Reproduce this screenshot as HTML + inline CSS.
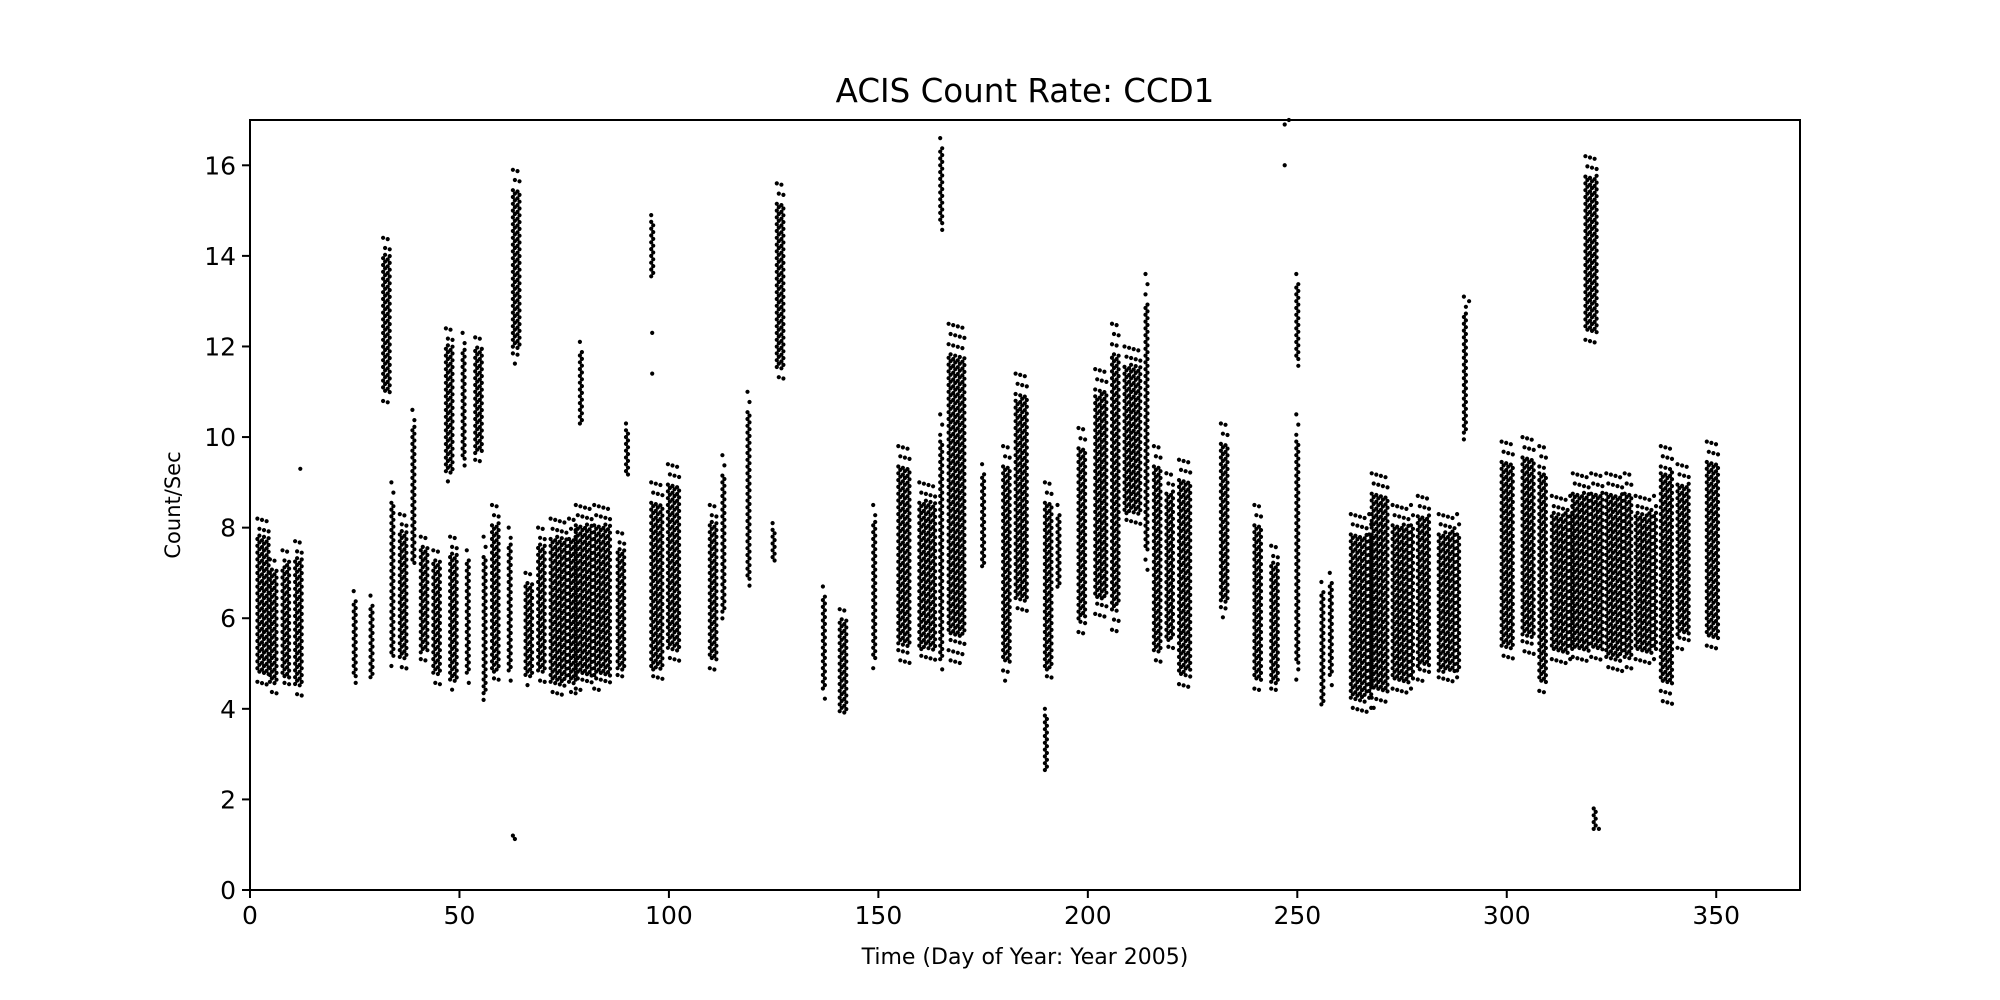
<!DOCTYPE html>
<html><head><meta charset="utf-8">
<style>
html,body{margin:0;padding:0;background:#fff;}
svg{display:block;font-family:"DejaVu Sans","Liberation Sans",sans-serif;}
</style></head>
<body>
<svg id="chart" width="2000" height="1000" viewBox="0 0 2000 1000">
<rect x="0" y="0" width="2000" height="1000" fill="#fff"/>
<text x="1025" y="102" font-size="32.5" text-anchor="middle">ACIS Count Rate: CCD1</text>
<g id="points"></g>
<g id="axes"></g>
<rect x="250" y="120" width="1550" height="770" fill="none" stroke="#000" stroke-width="2"/>
<text x="1025" y="964" font-size="22" text-anchor="middle">Time (Day of Year: Year 2005)</text>
<text x="0" y="0" font-size="21" text-anchor="middle" transform="translate(180,505) rotate(-90)">Count/Sec</text>
</svg>
<script>
const xTicks=[0,50,100,150,200,250,300,350];
const yTicks=[0,2,4,6,8,10,12,14,16];
// clusters: start day, end day, low rate, high rate
const clusterStart=[2,5,8,11,25,29,32,34,36,39,41,44,47,48,51,52,54,56,58,62,63,63,66,69,72,79,78,88,90,96,96,100,110,113,119,125,126,137,141,149,155,160,165,165,167,175,180,183,190,190,193,198,202,206,209,214,216,219,222,232,240,244,250,250,256,258,263,268,273,279,284,290,299,304,308,311,319,321,316,324,331,337,341,348];
const clusterEnd=[5,7,10,12.5,25.5,29.5,33.5,34.5,38,40,43,46,49,50,52,53,56,56.5,60,63,65,63.3,68,71,78,79.5,86,90,90.5,99,96.5,103,112,114,120,125.5,128,137.5,142.5,149.5,158,164,165.5,165.5,171,175.5,182,186,190.5,192,194,200,205,208,213,214.5,218,221,225,234,242,246,250.5,250.5,256.5,259,268,272,278,282,289,291,302,307,310,316,322,322,323,330,336,340,344,351];
const clusterLow=[4.5,4.3,4.4,4.2,4.5,4.5,10.7,4.8,4.8,7,5,4.5,9,4.4,9.2,4.5,9.4,4,4.5,4.6,11.6,1.1,4.5,4.5,4.3,10.2,4.4,4.6,9,4.5,13.5,5,4.8,5.8,6.5,7.2,11.2,4.2,3.8,4.8,5,5,4.7,14.5,5,7,4.6,6,2.6,4.5,6.5,5.6,6,5.7,8,7,4.9,5.2,4.4,6,4.3,4.3,4.5,11.5,3.9,4.5,3.9,4,4.3,4.6,4.5,9.8,5,5.2,4.2,5,12,1.3,5,4.8,5,4.1,5.3,5.2];
const clusterHigh=[8.2,7.3,7.5,7.7,6.6,6.5,14.4,9,8.3,10.6,7.8,7.5,12.4,7.8,12.3,7.5,12.2,7.8,8.5,8,15.9,1.2,7,8,8.2,12.1,8.5,7.9,10.3,9,14.9,9.4,8.5,9.6,11,8.1,15.6,6.7,6.2,8.5,9.8,9,10.5,16.6,12.5,9.4,9.8,11.4,4,9,8.5,10.2,11.5,12.5,12,13.6,9.8,9.2,9.5,10.3,8.5,7.6,10.5,13.6,6.8,7,8.3,9.2,8.5,8.7,8.3,13.1,9.9,10,9.8,8.7,16.2,1.8,9.2,9.2,8.7,9.8,9.4,9.9];
const outlierDays=[12,247,248,247,291,322,96,96];
const outlierRates=[9.3,16,17,16.9,13,1.35,12.3,11.4];

const L=250,R=1800,T=120,B=890,XMAX=370,YMAX=17;
const xs=d=>L+d/XMAX*(R-L);
const ys=v=>B-v/YMAX*(B-T);
const NS="http://www.w3.org/2000/svg";
const pts=document.getElementById('points');
let path="";
const dot=(x,y)=>{path+=`M${(x-2.1).toFixed(1)} ${y.toFixed(1)}a2.1 2.1 0 1 0 4.2 0a2.1 2.1 0 1 0 -4.2 0`;};
for(let i=0;i<clusterStart.length;i++){
  const x0=xs(clusterStart[i]),x1=xs(clusterEnd[i]);
  const y0=ys(clusterHigh[i]),y1=ys(clusterLow[i]);
  const span=y1-y0;
  let c=0;
  for(let x=x0;x<=x1+0.01;x+=4.6){
    const off=(c%4)*1.3;
    let k=0;
    for(let y=y0+off;y<=y1;y+=3.4){
      const rel=(y-y0)/Math.max(span,1);
      const tail=rel<0.1||rel>0.92;
      if(!tail || k%3===0) dot(x+((k%2)?1:-1),y);
      k++;
    }
    c++;
  }
}
for(let i=0;i<outlierDays.length;i++){dot(xs(outlierDays[i]),ys(outlierRates[i]));}
const p=document.createElementNS(NS,'path');
p.setAttribute('d',path);p.setAttribute('fill','#000');


pts.appendChild(p);

const ax=document.getElementById('axes');
xTicks.forEach(t=>{
  const l=document.createElementNS(NS,'line');
  l.setAttribute('x1',xs(t));l.setAttribute('x2',xs(t));l.setAttribute('y1',B);l.setAttribute('y2',B+8);
  l.setAttribute('stroke','#000');l.setAttribute('stroke-width','2');
  
  
  ax.appendChild(l);
  const tx=document.createElementNS(NS,'text');
  tx.setAttribute('x',xs(t));tx.setAttribute('y',B+34);tx.setAttribute('font-size','25');tx.setAttribute('text-anchor','middle');
  tx.textContent=t;
  
  
  ax.appendChild(tx);
});
yTicks.forEach(t=>{
  const l=document.createElementNS(NS,'line');
  l.setAttribute('x1',L-8);l.setAttribute('x2',L);l.setAttribute('y1',ys(t));l.setAttribute('y2',ys(t));
  l.setAttribute('stroke','#000');l.setAttribute('stroke-width','2');
  
  
  ax.appendChild(l);
  const tx=document.createElementNS(NS,'text');
  tx.setAttribute('x',L-14);tx.setAttribute('y',ys(t)+9);tx.setAttribute('font-size','25');tx.setAttribute('text-anchor','end');
  tx.textContent=t;
  
  
  ax.appendChild(tx);
});
</script>
</body></html>
